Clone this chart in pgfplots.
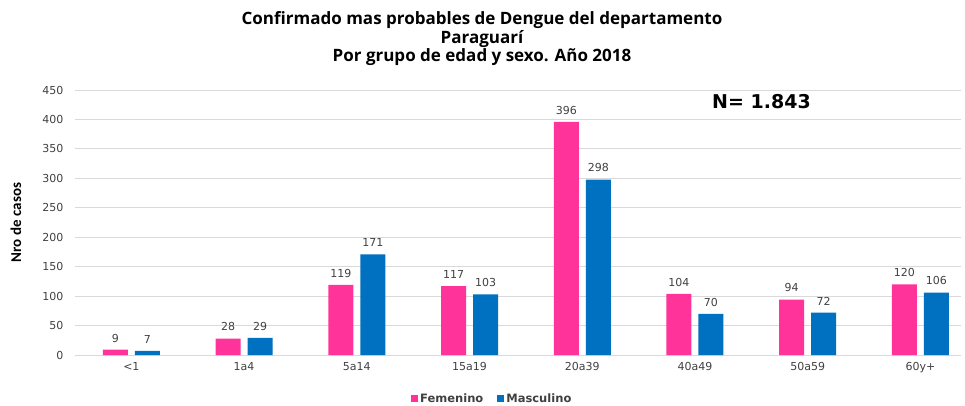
\documentclass[border=0pt]{standalone}
\usepackage{pgfplots}
\pgfplotsset{compat=1.18}
\usepackage{fontspec}
\setmainfont{DejaVu Sans}
\newfontfamily\titlefont{Open Sans}
\newfontfamily\labfont{Carlito}
\newfontfamily\nfont{DejaVu Sans}
\definecolor{fem}{RGB}{255,51,153}
\definecolor{mas}{RGB}{0,112,192}
\definecolor{gridc}{RGB}{217,217,217}
\definecolor{txt}{RGB}{64,64,64}
\begin{document}
\begin{tikzpicture}
\path[use as bounding box] (0,0) rectangle (965bp,406bp);
\node[font=\titlefont\bfseries\fontsize{17bp}{18.5bp}\selectfont, align=center, anchor=north] at (482bp,398bp)
 {Confirmado mas probables de Dengue del departamento\\Paraguarí\\Por grupo de edad y sexo. Año 2018};
\begin{axis}[
  at={(75bp,51bp)}, anchor=south west,
  scale only axis, width=886bp, height=265bp,
  xmin=-0.5, xmax=7.36, ymin=0, ymax=450,
  ytick={0,50,...,450},
  xtick={0,...,7},
  xticklabels={<1,1a4,5a14,15a19,20a39,40a49,50a59,60y+},
  ybar=7bp, bar width=25bp,
  axis y line*=left, axis x line*=bottom,
  y axis line style={draw=none},
  x axis line style={draw=gridc, line width=0.8pt, -},
  ymajorgrids, grid style={gridc, line width=0.8pt},
  major tick length=0pt,
  tick label style={font=\fontsize{11bp}{12bp}\selectfont, text=txt},
  yticklabel style={xshift=-8bp},
  xticklabel style={yshift=-4bp},
  /pgf/number format/assume math mode=true,
  ylabel={\bfseries Nro de casos},
  ylabel style={font=\labfont\fontsize{15bp}{17bp}\selectfont, at={(rel axis cs:0,0.5)}, anchor=center, yshift=59bp},
  nodes near coords,
  every node near coord/.append style={font=\fontsize{11bp}{12bp}\selectfont, text=txt, yshift=4bp},
  legend style={draw=none, at={(0.471,-0.165)}, anchor=center, legend columns=2,
    font=\bfseries\fontsize{11.5bp}{12bp}\selectfont, text=txt, inner sep=1bp,
    /tikz/every even column/.append style={column sep=12bp}},
  legend image code/.code={\fill[#1,draw=none] (0bp,-3.5bp) rectangle (7bp,3.5bp);},
  clip=false,
]
\addplot[fill=fem, draw=none] coordinates {(0,9) (1,28) (2,119) (3,117) (4,396) (5,104) (6,94) (7,120)};
\addplot[fill=mas, draw=none] coordinates {(0,7) (1,29) (2,171) (3,103) (4,298) (5,70) (6,72) (7,106)};
\legend{Femenino,Masculino}
\node[font=\nfont\bfseries\fontsize{19bp}{21bp}\selectfont] at (axis cs:5.59,431) {N= 1.843};
\end{axis}
\end{tikzpicture}
\end{document}
